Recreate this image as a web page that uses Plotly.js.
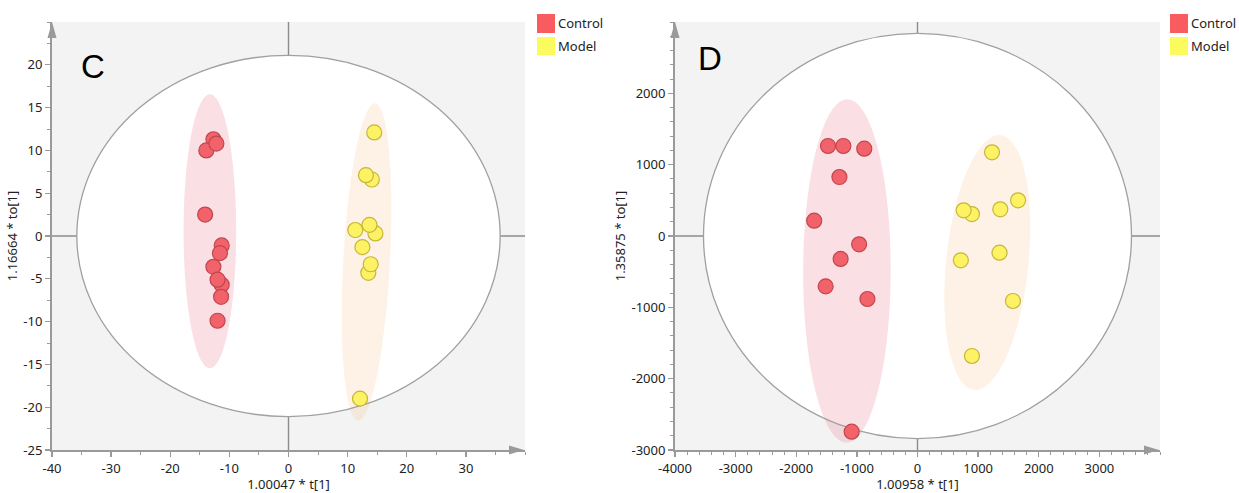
<!DOCTYPE html>
<html>
<head>
<meta charset="utf-8">
<script src="https://cdn.plot.ly/plotly-3.0.1.min.js"></script>
<style>html,body{margin:0;padding:0;background:#fff;}#chart{width:1239px;height:493px;}</style>
</head>
<body>
<div id="chart"></div>
<script>
// ---------- data ----------
const groups = ["Control", "Model"];
// Panel C
const ctrlC_x = [-12.7, -13.9, -12.2, -14.1, -11.3, -11.6, -12.7, -11.3, -12.0, -11.4, -12.0];
const ctrlC_y = [11.3, 10.0, 10.8, 2.5, -1.1, -2.0, -3.6, -5.7, -5.1, -7.1, -9.9];
const modelC_x = [14.5, 14.1, 13.1, 14.7, 11.3, 13.7, 12.5, 13.5, 13.9, 12.1];
const modelC_y = [12.1, 6.6, 7.1, 0.3, 0.7, 1.3, -1.3, -4.3, -3.3, -19.0];
// Panel D
const ctrlD_x = [-1476, -1223, -878, -1288, -1704, -963, -1268, -1515, -826, -1086];
const ctrlD_y = [1262, 1262, 1224, 827, 215, -117, -322, -706, -883, -2743];
const modelD_x = [1229, 1659, 898, 761, 1366, 1353, 715, 1574, 898];
const modelD_y = [1173, 500, 308, 360, 374, -234, -341, -911, -1682];

// Hotelling T2 ellipse radii [rx, ry]
const t2C = [35.8, 21.1];
const t2D = [3530, 2840];
// group ellipses: [cx, cy, halfWidth, halfHeight, topShiftX]
const ellCtrlC = [-13.3, 0.55, 4.45, 16.0, 0];
const ellModelC = [13.2, -3.05, 3.95, 18.55, 1.4];
const ellCtrlD = [-1164, -490, 722, 2407, 6];
const ellModelD = [1151, -372, 682, 1787, 195];

// axis ranges and tick labels
const rangeC_x = [-40, 40], rangeC_y = [-25, 25];
const rangeD_x = [-4000, 4000], rangeD_y = [-3000, 3000];
const ticksC_x = [-40, -30, -20, -10, 0, 10, 20, 30];
const ticksC_xt = ["-40", "-30", "-20", "-10", "0", "10", "20", "30"];
const ticksC_y = [-25, -20, -15, -10, -5, 0, 5, 10, 15, 20];
const ticksC_yt = ["-25", "-20", "-15", "-10", "-5", "0", "5", "10", "15", "20"];
const ticksD_x = [-4000, -3000, -2000, -1000, 0, 1000, 2000, 3000];
const ticksD_xt = ["-4000", "-3000", "-2000", "-1000", "0", "1000", "2000", "3000"];
const ticksD_y = [-3000, -2000, -1000, 0, 1000, 2000];
const ticksD_yt = ["-3000", "-2000", "-1000", "0", "1000", "2000"];

const titleC_x = "1.00047 * t[1]", titleC_y = "1.16664 * to[1]";
const titleD_x = "1.00958 * t[1]", titleD_y = "1.35875 * to[1]";

// ---------- styling ----------
const W = 1239, H = 493;
const px = v => v / W, py = v => 1 - v / H;
const FONT = "Noto Sans, Open Sans, sans-serif";
const redFill = "#f2626a", redLine = "#c2464d";
const yelFill = "#fcf263", yelLine = "#c4b73a";
const axisCol = "#9a9a9a";

function ellPath(e) {
  const [cx, cy, hw, hh, tx] = e;
  let d = "";
  const N = 72;
  for (let i = 0; i <= N; i++) {
    const t = 2 * Math.PI * i / N;
    const x = cx + hw * Math.cos(t) + tx * Math.sin(t);
    const y = cy + hh * Math.sin(t);
    d += (i === 0 ? "M" : "L") + x.toFixed(3) + "," + y.toFixed(3);
  }
  return d + "Z";
}

function panelShapes(xr, yr, t2, eCtrl, eModel) {
  return [
    {type: "circle", xref: xr, yref: yr, x0: -t2[0], x1: t2[0], y0: -t2[1], y1: t2[1],
     fillcolor: "#ffffff", line: {width: 0}, layer: "below"},
    {type: "path", xref: xr, yref: yr, path: ellPath(eCtrl), fillcolor: "rgba(230,95,120,0.2)",
     line: {width: 0}, layer: "below"},
    {type: "path", xref: xr, yref: yr, path: ellPath(eModel), fillcolor: "rgba(245,190,125,0.2)",
     line: {width: 0}, layer: "below"},
    {type: "circle", xref: xr, yref: yr, x0: -t2[0], x1: t2[0], y0: -t2[1], y1: t2[1],
     line: {color: "#a0a0a0", width: 1.3}, layer: "below"},
    {type: "line", xref: xr + " domain", yref: yr, x0: 0, x1: 1, y0: 0, y1: 0,
     line: {color: "#8c8c8c", width: 1.4}, layer: "below"},
    {type: "line", xref: xr, yref: yr + " domain", x0: 0, x1: 0, y0: 0, y1: 1,
     line: {color: "#8c8c8c", width: 1.4}, layer: "below"}
  ];
}

function arrows(left, right) {
  const yb = 450, yt = 22;
  return [
    {type: "path", xref: "paper", yref: "paper",
     path: `M${px(right)},${py(yb)} L${px(right - 15)},${py(yb - 4.5)} L${px(right - 15)},${py(yb + 4.5)} Z`,
     fillcolor: axisCol, line: {width: 0}},
    {type: "path", xref: "paper", yref: "paper",
     path: `M${px(left)},${py(yt)} L${px(left - 4.5)},${py(yt + 16)} L${px(left + 4.5)},${py(yt + 16)} Z`,
     fillcolor: axisCol, line: {width: 0}}
  ];
}

function legend(x0) {
  return [
    {type: "rect", xref: "paper", yref: "paper", x0: px(x0), x1: px(x0 + 18), y0: py(33), y1: py(14),
     fillcolor: "#f95c5e", line: {width: 0}},
    {type: "rect", xref: "paper", yref: "paper", x0: px(x0), x1: px(x0 + 18), y0: py(55), y1: py(37),
     fillcolor: "#fbfb5d", line: {width: 0}}
  ];
}
function legendText(x0) {
  return [
    {xref: "paper", yref: "paper", x: px(x0 + 19), y: py(23.5), text: groups[0], showarrow: false,
     xanchor: "left", yanchor: "middle", font: {family: FONT, size: 13, color: "#222"}},
    {xref: "paper", yref: "paper", x: px(x0 + 19), y: py(46), text: groups[1], showarrow: false,
     xanchor: "left", yanchor: "middle", font: {family: FONT, size: 13, color: "#222"}}
  ];
}

function axis(domain, range, tv, tt, minorD, title, anchor, isY) {
  return {
    domain: domain, range: range, anchor: anchor, fixedrange: true,
    showgrid: false, zeroline: false, showline: true, linecolor: axisCol, linewidth: 2,
    ticks: "outside", ticklen: 5, tickwidth: 1.3, tickcolor: axisCol,
    tickvals: tv, ticktext: tt, tickfont: {family: FONT, size: 13, color: "#222"},
    minor: {dtick: minorD, ticks: "outside", ticklen: 3, tickwidth: 1, tickcolor: axisCol, showgrid: false},
    title: {text: title, font: {family: FONT, size: 13, color: "#222"}, standoff: isY ? 3 : 4},
    automargin: false
  };
}

const mk = (fill, line) => ({size: 15, color: fill, line: {color: line, width: 1.2}});
const traces = [
  {x: ctrlC_x, y: ctrlC_y, name: groups[0], type: "scatter", mode: "markers", marker: mk(redFill, redLine), xaxis: "x", yaxis: "y"},
  {x: modelC_x, y: modelC_y, name: groups[1], type: "scatter", mode: "markers", marker: mk(yelFill, yelLine), xaxis: "x", yaxis: "y"},
  {x: ctrlD_x, y: ctrlD_y, name: groups[0], type: "scatter", mode: "markers", marker: mk(redFill, redLine), xaxis: "x2", yaxis: "y2"},
  {x: modelD_x, y: modelD_y, name: groups[1], type: "scatter", mode: "markers", marker: mk(yelFill, yelLine), xaxis: "x2", yaxis: "y2"}
];

const yDom = [py(450), py(22)];
const layout = {
  width: W, height: H,
  margin: {l: 0, r: 0, t: 0, b: 0},
  paper_bgcolor: "#ffffff", plot_bgcolor: "#f3f3f3",
  showlegend: false,
  xaxis: axis([px(52), px(525)], rangeC_x, ticksC_x, ticksC_xt, 5, titleC_x, "y", false),
  yaxis: axis(yDom, rangeC_y, ticksC_y, ticksC_yt, 2.5, titleC_y, "x", true),
  xaxis2: axis([px(675), px(1160)], rangeD_x, ticksD_x, ticksD_xt, 200, titleD_x, "y2", false),
  yaxis2: axis(yDom, rangeD_y, ticksD_y, ticksD_yt, 200, titleD_y, "x2", true),
  shapes: [].concat(
    panelShapes("x", "y", t2C, ellCtrlC, ellModelC),
    panelShapes("x2", "y2", t2D, ellCtrlD, ellModelD),
    arrows(52, 524), arrows(675, 1159),
    legend(537), legend(1170)
  ),
  annotations: [].concat(
    [{xref: "paper", yref: "paper", x: px(93), y: py(66), text: "C", showarrow: false,
      xanchor: "center", yanchor: "middle", font: {family: "Liberation Sans, Arial, sans-serif", size: 33, color: "#000"}},
     {xref: "paper", yref: "paper", x: px(710), y: py(59), text: "D", showarrow: false,
      xanchor: "center", yanchor: "middle", font: {family: "Liberation Sans, Arial, sans-serif", size: 33, color: "#000"}}],
    legendText(537), legendText(1170)
  )
};

Plotly.newPlot("chart", traces, layout, {displayModeBar: false, staticPlot: true});
</script>
</body>
</html>
